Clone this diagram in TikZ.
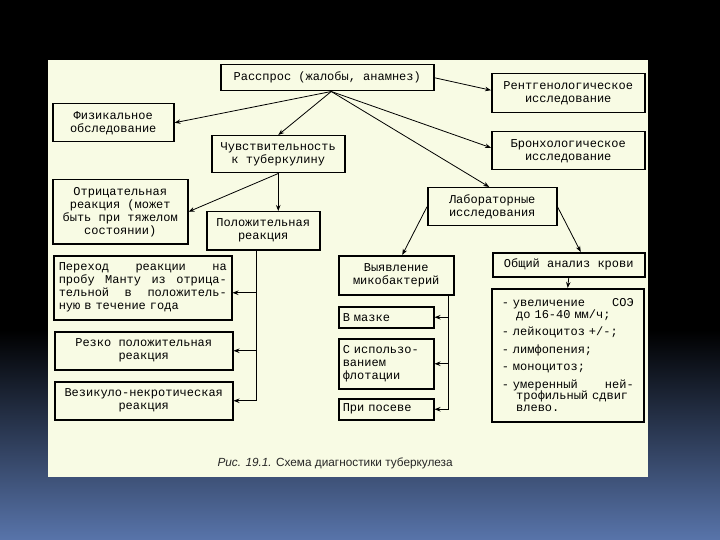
\documentclass[tikz,border=0pt]{standalone}
\usepackage{fontspec}
\setmainfont{Liberation Mono}
\newfontfamily\capfont{Liberation Sans}
\usetikzlibrary{arrows.meta,calc}
\definecolor{pagec}{RGB}{248,251,228}
\definecolor{bgblue}{RGB}{88,116,170}
\newcommand{\boxfont}[1]{\fontsize{12}{#1}\selectfont\spaceskip=7.2pt\relax}
\tikzset{
  box/.style={draw=black, line width=1.5pt, inner sep=2pt, anchor=north west,
    align=center, text=black, font=\boxfont{13}},
  lbox/.style={box, align=left, inner xsep=4pt},
  arr/.style={draw=black, line width=0.8pt, -{Stealth[length=6pt,width=4.5pt]}},
  ln/.style={draw=black, line width=0.8pt},
}
\begin{document}
\begin{tikzpicture}[x=1pt,y=-1pt]
\useasboundingbox (0,0) rectangle (720,540);
\fill[black] (0,0) rectangle (720,330);
\shade[top color=black, bottom color=bgblue] (0,330) rectangle (720,540);
\fill[pagec] (48,60) rectangle (648,477);

% nodes
\node[box, minimum width=213pt, minimum height=26pt] (ras) at (220,64) {Расспрос (жалобы, анамнез)};
\node[box, minimum width=153pt, minimum height=39pt] (rent) at (491,73) {Рентгенологическое\\исследование};
\node[box, minimum width=121pt, minimum height=38pt] (fiz) at (52,103) {Физикальное\\обследование};
\node[box, minimum width=133pt, minimum height=37pt] (chuv) at (211,135) {Чувствительность\\к туберкулину};
\node[box, minimum width=153pt, minimum height=38pt] (bron) at (491,131) {Бронхологическое\\исследование};
\node[box, minimum width=135pt, minimum height=64pt] (otr) at (52,179) {Отрицательная\\реакция (может\\быть при тяжелом\\состоянии)};
\node[box, minimum width=113pt, minimum height=38pt] (pol) at (206,211) {Положительная\\реакция};
\node[box, minimum width=129pt, minimum height=38pt] (lab) at (427,187) {Лабораторные\\исследования};
\node[lbox, text width=168pt, inner xsep=5pt, minimum height=64pt] (per) at (53,255)
  {Переход\hfill реакции\hfill на\\пробу\hfill Манту\hfill из\hfill отрица-\\тельной\hfill в\hfill положитель-\\ную в течение года};
\node[box, minimum width=115pt, minimum height=39pt] (vyy) at (338,255) {Выявление\\микобактерий};
\node[box, minimum width=152pt, minimum height=24pt] (obs) at (492,252) {Общий анализ крови};
\node[lbox, text width=87pt, minimum height=21pt] (mazk) at (338,306) {В мазке};
\node[lbox, text width=132pt, inner xsep=10pt, minimum height=133pt, font=\boxfont{11.5}] (res) at (491,288)
  {- увеличение\hfill СОЭ\\
   \hspace*{14.4pt}до 16-40 мм/ч;\\[6pt]
   - лейкоцитоз +/-;\\[6pt]
   - лимфопения;\\[6pt]
   - моноцитоз;\\[6pt]
   - умеренный\hfill ней-\\
   \hspace*{14.4pt}трофильный сдвиг\\
   \hspace*{14.4pt}влево.};
\node[box, minimum width=178pt, minimum height=38pt] (rez) at (54,331) {Резко положительная\\реакция};
\node[lbox, text width=87pt, minimum height=50pt] (isp) at (338,338) {С использо-\\ванием\\флотации};
\node[box, minimum width=178pt, minimum height=38pt] (vez) at (54,381) {Везикуло-некротическая\\реакция};
\node[lbox, text width=87pt, minimum height=21pt] (pos) at (338,398) {При посеве};

\node[font=\capfont\fontsize{11.8}{13}\selectfont, anchor=west, text=black!85] (cap) at (214,463)
  {\textit{Рис. 19.1.} Схема диагностики туберкулеза};

% connectors from Расспрос
\coordinate (apex) at ($(ras.south)+(4,0)$);
\draw[arr] (apex) -- (fiz.east);
\draw[arr] (apex) -- (chuv.north);
\draw[arr] (ras.east) -- ($(rent.west)+(0,-3)$);
\draw[arr] (apex) -- ($(bron.west)+(0,-3)$);
\draw[arr] (apex) -- ($(lab.north)+(-3,0)$);

% Чувствительность
\draw[arr] (chuv.south) -- (otr.east);
\draw[arr] (chuv.south) -- (chuv.south |- pol.north);

% Положительная -> three reactions
\coordinate (pv) at ($(pol.south)+(-7,0)$);
\draw[ln] (pv) -- (pv |- vez.east);
\draw[arr] ($(pv |- per.east)+(0,5)$) -- ($(per.east)+(0,5)$);
\draw[arr] (pv |- rez.east) -- (rez.east);
\draw[arr] (pv |- vez.east) -- (vez.east);

% Лабораторные
\draw[arr] (lab.west) -- ($(vyy.north)+(6,0)$);
\draw[arr] (lab.east) -- ($(obs.north)+(12,0)$);
\draw[arr] (obs.south) -- (res.north);

% Выявление -> methods
\coordinate (mv) at ($(vyy.south east)+(-6,0)$);
\draw[ln] (mv) -- (mv |- pos.east);
\draw[arr] (mv |- mazk.east) -- (mazk.east);
\draw[arr] (mv |- isp.east) -- (isp.east);
\draw[arr] (mv |- pos.east) -- (pos.east);
\end{tikzpicture}
\end{document}
